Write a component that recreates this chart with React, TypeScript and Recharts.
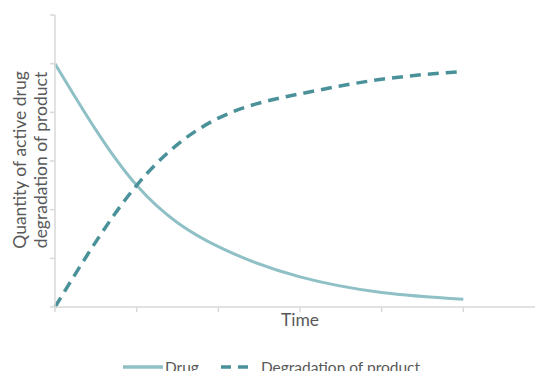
import React from "react";
import { LineChart, Line, XAxis, YAxis, Label, Legend } from "recharts";

const time = [0, 1, 2, 3, 4, 5];
const drug = [5, 2.5, 1.24, 0.62, 0.3, 0.16];
const degradation = [0, 2.5, 3.88, 4.38, 4.68, 4.84];
const axisTicks = [0, 1, 2, 3, 4, 5, 6];

const DRUG_COLOR = "#8fc0c6";
const DEG_COLOR = "#4a9199";
const TEXT_COLOR = "#595959";
const AXIS_COLOR = "#d9d9d9";
const FONT = "Lato, 'Open Sans', sans-serif";
const FONT_SIZE = 17.5;
const LEGEND_FONT_SIZE = 15.5;

const data = time.map((t, i) => ({ t, drug: drug[i], degradation: degradation[i] }));

const legendItems = [
  { name: "Drug", color: DRUG_COLOR, dash: undefined as string | undefined, iconWidth: 40, textGap: 2 },
  { name: "Degradation of product", color: DEG_COLOR, dash: "10 7", iconWidth: 30, textGap: 10 },
];

const NoLabel = () => <g />;

function LegendContent() {
  return (
    <div style={{ display: "flex", justifyContent: "center", alignItems: "center", fontFamily: FONT, fontSize: LEGEND_FONT_SIZE, color: TEXT_COLOR, lineHeight: "18px" }}>
      {legendItems.map((item, i) => (
        <div key={item.name} style={{ display: "flex", alignItems: "center", marginLeft: i === 0 ? 0 : 22 }}>
          <svg width={item.iconWidth} height={10} style={{ marginRight: item.textGap }}>
            <line x1={0} y1={5} x2={item.iconWidth} y2={5} stroke={item.color} strokeWidth={3.5} strokeDasharray={item.dash} />
          </svg>
          <span>{item.name}</span>
        </div>
      ))}
    </div>
  );
}

export default function App() {
  return (
    <div style={{ margin: -8, width: 543, height: 379, overflow: "hidden", background: "#fff" }}>
      <LineChart width={543} height={379} data={data} margin={{ top: 15, right: -2, left: 0, bottom: 0 }}>
        <XAxis
          dataKey="t"
          type="number"
          domain={[0, 6]}
          ticks={axisTicks}
          tick={NoLabel}
          tickSize={5}
          height={72}
          axisLine={{ stroke: AXIS_COLOR, strokeWidth: 1.5 }}
          tickLine={{ stroke: AXIS_COLOR, strokeWidth: 1.5 }}
        >
          <Label value="Time" position="insideTop" offset={7} fill={TEXT_COLOR} fontSize={FONT_SIZE} fontFamily={FONT} />
        </XAxis>
        <YAxis
          type="number"
          domain={[0, 6]}
          ticks={axisTicks}
          tick={NoLabel}
          tickSize={5}
          width={55}
          axisLine={{ stroke: AXIS_COLOR, strokeWidth: 1.5 }}
          tickLine={{ stroke: AXIS_COLOR, strokeWidth: 1.5 }}
        >
          <Label
            content={() => (
              <text transform="translate(36,160) rotate(-90)" textAnchor="middle" fill={TEXT_COLOR} fontSize={FONT_SIZE} fontFamily={FONT}>
                <tspan x={0} dy={-10}>Quantity of active drug</tspan>
                <tspan x={0} dy={21}>degradation of product</tspan>
              </text>
            )}
          />
        </YAxis>
        <Legend verticalAlign="middle" content={<LegendContent />} wrapperStyle={{ top: 358, left: 0, width: 543 }} />
        <Line type="natural" dataKey="drug" name="Drug" stroke={DRUG_COLOR} strokeWidth={3} dot={false} isAnimationActive={false} />
        <Line
          type="natural"
          dataKey="degradation"
          name="Degradation of product"
          stroke={DEG_COLOR}
          strokeWidth={3.5}
          strokeDasharray="11 7"
          dot={false}
          isAnimationActive={false}
        />
      </LineChart>
    </div>
  );
}
